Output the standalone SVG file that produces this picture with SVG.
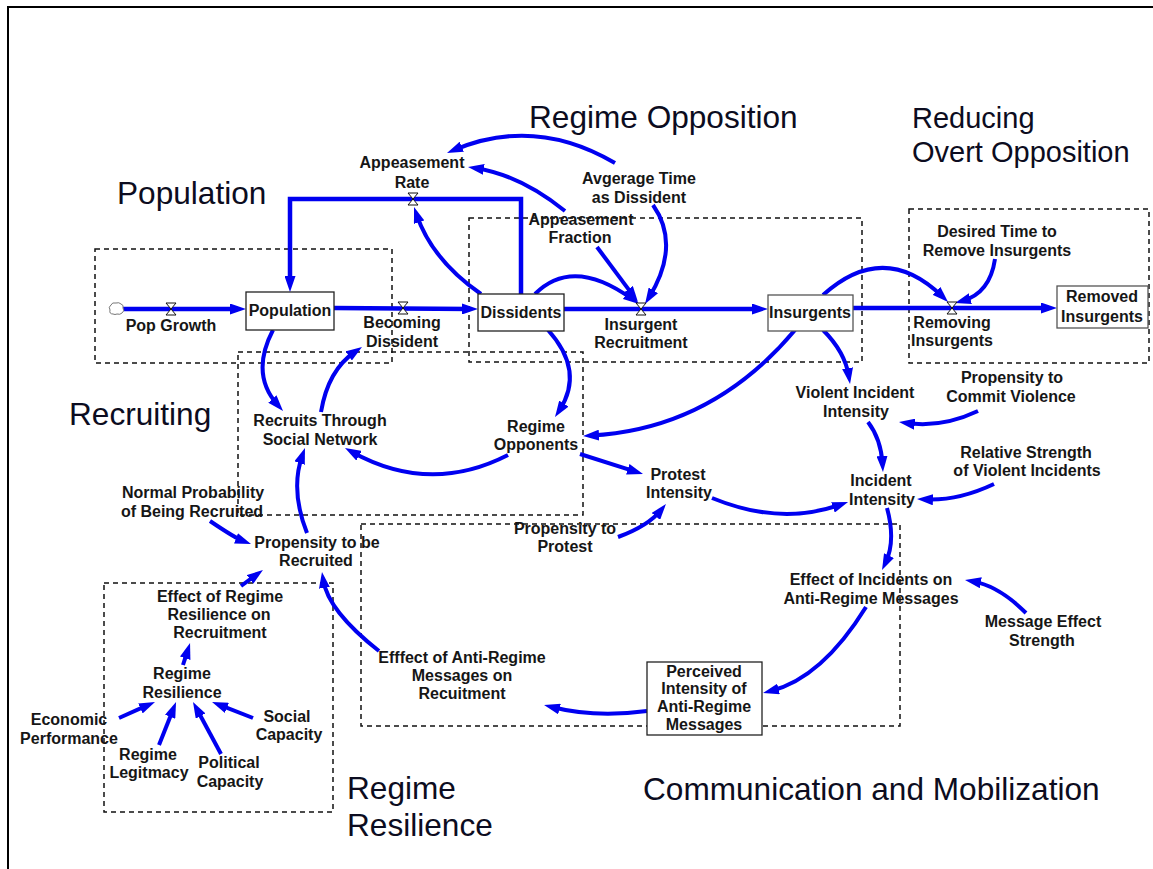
<svg xmlns="http://www.w3.org/2000/svg" width="1153" height="869" viewBox="0 0 1153 869">
<style>
.lbl{font-family:"Liberation Sans",Arial,sans-serif;font-weight:bold;font-size:16px;fill:#161616;text-anchor:middle}
.sec{font-family:"Liberation Sans",Arial,sans-serif;font-size:31.6px;fill:#0c0c20}
.sec2{font-family:"Liberation Sans",Arial,sans-serif;font-size:29px;fill:#0c0c20}
.box{fill:none;stroke:#111;stroke-width:1.5;stroke-dasharray:5,4}
.stock{fill:#fff;stroke:#222;stroke-width:1.3}
.c{fill:none;stroke:#0000f0;stroke-width:4;marker-end:url(#ah)}
.pipe{fill:none;stroke:#0000f0;stroke-width:4.5;marker-end:url(#ah)}
.valve{fill:#fff;stroke:#111;stroke-width:1}
</style>
<defs>
<marker id="ah" markerUnits="userSpaceOnUse" viewBox="0 0 16 11" markerWidth="16" markerHeight="11" refX="8" refY="5.5" orient="auto">
<path d="M0,0 L16,5.5 L0,11 z" fill="#0000f0"/>
</marker>
</defs>
<rect width="1153" height="869" fill="#fff"/>
<path d="M8,869 V7 H1153" fill="none" stroke="#000" stroke-width="2"/>

<g id="sections">
<text class="sec" x="117" y="204">Population</text>
<text class="sec" x="529" y="128">Regime Opposition</text>
<text class="sec2" x="912" y="128">Reducing</text>
<text class="sec2" x="912" y="162">Overt Opposition</text>
<text class="sec" x="69" y="425">Recruiting</text>
<text class="sec" x="347" y="799">Regime</text>
<text class="sec" x="347" y="836">Resilience</text>
<text class="sec" x="643" y="800">Communication and Mobilization</text>
</g>

<g id="section-boxes">
<rect class="box" x="95" y="249" width="297" height="114"/>
<rect class="box" x="238" y="352" width="345" height="163"/>
<rect class="box" x="469" y="218" width="393" height="144"/>
<rect class="box" x="909" y="209" width="240" height="154"/>
<rect class="box" x="361" y="524" width="539" height="202"/>
<rect class="box" x="104" y="583" width="229" height="229"/>
</g>

<g id="connectors">
<path class="pipe" d="M123,309 L238,309"/>
<path class="pipe" d="M334,308 L470,309"/>
<path class="pipe" d="M564,309 L760,309"/>
<path class="pipe" d="M853,308 L1049,308"/>
<path class="pipe" d="M521,294 V199 H290 V284"/>
<path class="c" d="M615,163 Q535,116 454.4,149.9"/>
<path class="c" d="M565,211 Q520,175 475.9,168.2"/>
<path class="c" d="M481,294 Q432,260 416.6,214.6"/>
<path class="c" d="M535,294 Q573,256 632.5,299.3"/>
<path class="c" d="M597,247 L633.2,295.6"/>
<path class="c" d="M653,205 Q681,245 649.2,297.2"/>
<path class="c" d="M823,295 Q884,240 942.3,296.4"/>
<path class="c" d="M995,259 Q990,293 962.7,300.8"/>
<path class="c" d="M273,330 Q250,374 277.7,405"/>
<path class="c" d="M321,412 Q328,370 355.4,351.5"/>
<path class="c" d="M508,455 Q430,495 352,451.9"/>
<path class="c" d="M548,330 Q585,371 559.4,410.3"/>
<path class="c" d="M795,330 Q712,429 591,435.6"/>
<path class="c" d="M580,454 L635.4,471.6"/>
<path class="c" d="M618,537 Q648,526 660.9,510.2"/>
<path class="c" d="M712,498 Q780,526 840.5,504.7"/>
<path class="c" d="M823,330 Q845,352 848.8,376.1"/>
<path class="c" d="M978,411 Q942,428 906.9,423.1"/>
<path class="c" d="M868,422 Q881,439 882.5,464"/>
<path class="c" d="M994,484 Q958,501 925,499.4"/>
<path class="c" d="M887,508 Q896,541 885.5,562.8"/>
<path class="c" d="M1026,613 Q999,586 972.9,581.4"/>
<path class="c" d="M866,607 Q822,678 770.8,691"/>
<path class="c" d="M647,711 Q595,718 551.8,707"/>
<path class="c" d="M379,651 Q328,611 323.2,579.9"/>
<path class="c" d="M307,533 Q290,490 302.3,455.5"/>
<path class="c" d="M210,521 Q235,538 243.5,541.2"/>
<path class="c" d="M241,586 L256.5,574.7"/>
<path class="c" d="M183,665 L187.6,650.6"/>
<path class="c" d="M119,718 L147.7,705.2"/>
<path class="c" d="M159,745 L173.1,709.4"/>
<path class="c" d="M221,754 L196.8,709"/>
<path class="c" d="M253,718 L219.5,704.9"/>
</g>

<g id="valves">
<path class="valve" d="M166,303 H176 L166,315 H176 Z"/>
<path class="valve" d="M398,302 H408 L398,314 H408 Z"/>
<path class="valve" d="M636,303 H646 L636,315 H646 Z"/>
<path class="valve" d="M947,302 H957 L947,314 H957 Z"/>
<path class="valve" d="M408,193 H418 L408,205 H418 Z"/>
<path d="M113,314 q-4,0 -3,-4 q-2,-3 1,-5 q1,-3 5,-2 q3,-1 5,1 q3,1 2,4 q2,3 -1,5 q-2,2 -5,1 q-2,1 -4,0 z" fill="#fff" stroke="#777" stroke-width="1"/>
</g>

<g id="n-population"><rect class="stock" x="246" y="292" width="88" height="38"/><text class="lbl" x="290" y="316">Population</text></g>
<g id="n-dissidents"><rect class="stock" x="478" y="294" width="86" height="37"/><text class="lbl" x="521" y="318">Dissidents</text></g>
<g id="n-insurgents"><rect class="stock" x="768" y="295" width="85" height="36" style="stroke:#555"/><text class="lbl" x="810" y="318">Insurgents</text></g>
<g id="n-removed"><rect class="stock" x="1057" y="286" width="91" height="42" style="stroke:#555"/><text class="lbl" x="1102" y="302">Removed</text><text class="lbl" x="1102" y="322">Insurgents</text></g>
<g id="n-perceived"><rect class="stock" x="647" y="662" width="115" height="73"/><text class="lbl" x="704" y="677">Perceived</text><text class="lbl" x="704" y="694">Intensity of</text><text class="lbl" x="704" y="712">Anti-Regime</text><text class="lbl" x="704" y="730">Messages</text></g>

<g id="n-popgrowth"><text class="lbl" x="171" y="331">Pop Growth</text></g>
<g id="n-becoming"><text class="lbl" x="402" y="328">Becoming</text><text class="lbl" x="402" y="347">Dissident</text></g>
<g id="n-insrec"><text class="lbl" x="641" y="330">Insurgent</text><text class="lbl" x="641" y="348">Recruitment</text></g>
<g id="n-removing"><text class="lbl" x="952" y="328">Removing</text><text class="lbl" x="952" y="346">Insurgents</text></g>
<g id="n-apprate"><text class="lbl" x="412" y="168">Appeasement</text><text class="lbl" x="412" y="188">Rate</text></g>
<g id="n-avgtime"><text class="lbl" x="639" y="184">Avgerage Time</text><text class="lbl" x="639" y="203">as Dissident</text></g>
<g id="n-appfrac"><text class="lbl" x="581" y="225">Appeasement</text><text class="lbl" x="580" y="243">Fraction</text></g>
<g id="n-desired"><text class="lbl" x="997" y="237">Desired Time to</text><text class="lbl" x="997" y="256">Remove Insurgents</text></g>
<g id="n-recruits"><text class="lbl" x="320" y="426">Recruits Through</text><text class="lbl" x="320" y="445">Social Network</text></g>
<g id="n-opponents"><text class="lbl" x="536" y="432">Regime</text><text class="lbl" x="536" y="450">Opponents</text></g>
<g id="n-protest"><text class="lbl" x="678" y="480">Protest</text><text class="lbl" x="679" y="498">Intensity</text></g>
<g id="n-propprotest"><text class="lbl" x="565" y="534">Propensity to</text><text class="lbl" x="565" y="552">Protest</text></g>
<g id="n-violent"><text class="lbl" x="855" y="398">Violent Incident</text><text class="lbl" x="856" y="417">Intensity</text></g>
<g id="n-propviolence"><text class="lbl" x="1012" y="383">Propensity to</text><text class="lbl" x="1011" y="402">Commit Violence</text></g>
<g id="n-relstrength"><text class="lbl" x="1026" y="458">Relative Strength</text><text class="lbl" x="1027" y="476">of Violent Incidents</text></g>
<g id="n-incident"><text class="lbl" x="881" y="486">Incident</text><text class="lbl" x="882" y="505">Intensity</text></g>
<g id="n-effincidents"><text class="lbl" x="871" y="585">Effect of Incidents on</text><text class="lbl" x="871" y="604">Anti-Regime Messages</text></g>
<g id="n-msgeffect"><text class="lbl" x="1043" y="627">Message Effect</text><text class="lbl" x="1042" y="646">Strength</text></g>
<g id="n-normal"><text class="lbl" x="193" y="498">Normal Probability</text><text class="lbl" x="192" y="517">of Being Recruited</text></g>
<g id="n-proprecruit"><text class="lbl" x="317" y="548">Propensity to be</text><text class="lbl" x="316" y="566">Recruited</text></g>
<g id="n-efffect"><text class="lbl" x="462" y="663">Efffect of Anti-Regime</text><text class="lbl" x="462" y="681">Messages on</text><text class="lbl" x="462" y="699">Recuitment</text></g>
<g id="n-effrr"><text class="lbl" x="220" y="602">Effect of Regime</text><text class="lbl" x="219" y="620">Resilience on</text><text class="lbl" x="220" y="638">Recruitment</text></g>
<g id="n-rr"><text class="lbl" x="182" y="679">Regime</text><text class="lbl" x="182" y="698">Resilience</text></g>
<g id="n-economic"><text class="lbl" x="69" y="725">Economic</text><text class="lbl" x="69" y="744">Performance</text></g>
<g id="n-legit"><text class="lbl" x="148" y="760">Regime</text><text class="lbl" x="149" y="778">Legitmacy</text></g>
<g id="n-political"><text class="lbl" x="229" y="768">Political</text><text class="lbl" x="230" y="787">Capacity</text></g>
<g id="n-social"><text class="lbl" x="287" y="722">Social</text><text class="lbl" x="289" y="740">Capacity</text></g>
</svg>
